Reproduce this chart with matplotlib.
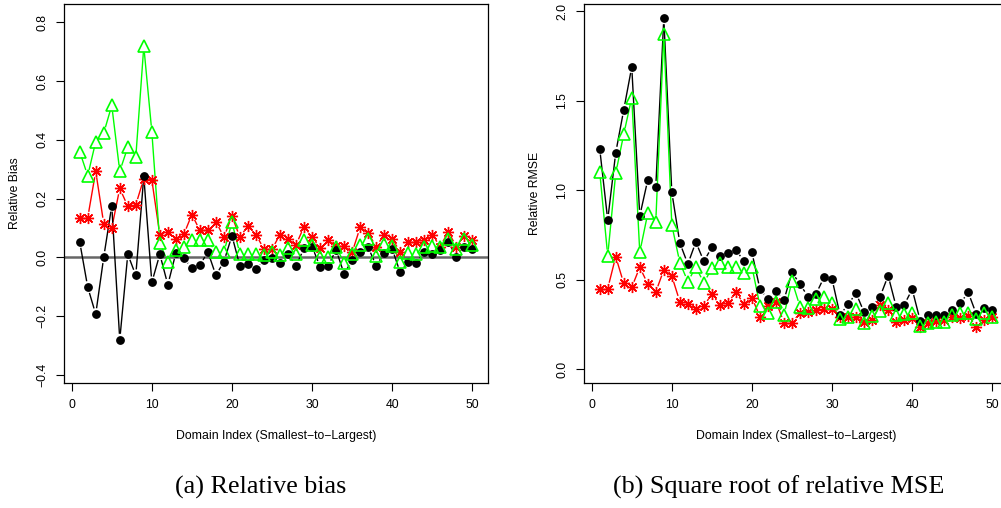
import numpy as np
import matplotlib.pyplot as plt

idx = list(range(1, 51))

bias_black = [0.053, -0.101, -0.193, 0.001, 0.176, -0.280, 0.011, -0.061, 0.276, -0.085,
              0.011, -0.093, 0.015, -0.003, -0.036, -0.026, 0.019, -0.061, -0.014, 0.074,
              -0.029, -0.022, -0.040, -0.008, -0.003, -0.020, 0.011, -0.028, 0.031, 0.037,
              -0.031, -0.029, 0.026, -0.056, -0.009, 0.020, 0.035, -0.028, 0.015, 0.029,
              -0.051, -0.014, -0.019, 0.020, 0.012, 0.026, 0.054, 0.001, 0.035, 0.029]
bias_red = [0.135, 0.135, 0.293, 0.115, 0.100, 0.235, 0.174, 0.179, 0.268, 0.264,
            0.077, 0.088, 0.062, 0.079, 0.146, 0.092, 0.092, 0.122, 0.069, 0.140,
            0.069, 0.108, 0.078, 0.028, 0.028, 0.078, 0.062, 0.043, 0.105, 0.069,
            0.032, 0.058, 0.040, 0.040, 0.017, 0.102, 0.083, 0.037, 0.077, 0.062,
            0.020, 0.051, 0.051, 0.058, 0.077, 0.037, 0.088, 0.037, 0.074, 0.060]
bias_green = [0.360, 0.278, 0.394, 0.423, 0.517, 0.293, 0.375, 0.341, 0.718, 0.428,
              0.049, -0.015, 0.024, 0.035, 0.060, 0.060, 0.058, 0.018, 0.018, 0.120,
              0.012, 0.012, 0.012, 0.009, 0.020, 0.009, 0.032, 0.012, 0.058, 0.043,
              0.001, 0.001, 0.037, -0.019, 0.012, 0.043, 0.064, 0.006, 0.045, 0.040,
              -0.014, 0.015, 0.012, 0.035, 0.040, 0.035, 0.062, 0.028, 0.062, 0.043]

rmse_black = [1.233, 0.834, 1.210, 1.449, 1.689, 0.857, 1.058, 1.019, 1.961, 0.989,
              0.706, 0.588, 0.711, 0.603, 0.682, 0.635, 0.652, 0.666, 0.605, 0.653,
              0.447, 0.393, 0.439, 0.387, 0.542, 0.475, 0.406, 0.421, 0.514, 0.503,
              0.303, 0.363, 0.425, 0.318, 0.350, 0.406, 0.523, 0.350, 0.359, 0.447,
              0.272, 0.306, 0.306, 0.306, 0.331, 0.369, 0.429, 0.309, 0.344, 0.331]
rmse_red = [0.447, 0.451, 0.629, 0.480, 0.458, 0.570, 0.477, 0.432, 0.555, 0.521,
            0.378, 0.365, 0.339, 0.354, 0.421, 0.359, 0.370, 0.433, 0.363, 0.400,
            0.294, 0.354, 0.378, 0.261, 0.261, 0.316, 0.322, 0.331, 0.335, 0.335,
            0.294, 0.294, 0.294, 0.262, 0.278, 0.359, 0.331, 0.266, 0.275, 0.284,
            0.238, 0.257, 0.270, 0.275, 0.294, 0.284, 0.300, 0.238, 0.275, 0.291]
rmse_green = [1.104, 0.635, 1.095, 1.313, 1.518, 0.654, 0.871, 0.825, 1.872, 0.806,
              0.596, 0.490, 0.570, 0.484, 0.564, 0.592, 0.570, 0.573, 0.540, 0.573,
              0.354, 0.316, 0.378, 0.303, 0.493, 0.350, 0.344, 0.393, 0.402, 0.369,
              0.279, 0.294, 0.335, 0.257, 0.300, 0.328, 0.369, 0.303, 0.309, 0.316,
              0.242, 0.257, 0.262, 0.266, 0.303, 0.313, 0.313, 0.279, 0.313, 0.294]

W, H = 1001, 508
plt.rcParams['font.family'] = 'Liberation Sans'
fig = plt.figure(figsize=(W / 100, H / 100), dpi=100)


def px_axes(x0, y0, x1, y1):
    return fig.add_axes([x0 / W, 1 - y1 / H, (x1 - x0) / W, (y1 - y0) / H])


def gapped(ax, x, y, color, gap=6.0):
    # R type="b": segments stop short of each point
    pts = ax.transData.transform(np.column_stack([x, y]))
    inv = ax.transData.inverted()
    for p, q in zip(pts[:-1], pts[1:]):
        d = q - p
        L = np.hypot(d[0], d[1])
        if L <= 2 * gap:
            continue
        u = d / L
        a, b = inv.transform([p + u * gap, q - u * gap])
        ax.plot([a[0], b[0]], [a[1], b[1]], color=color, lw=1.0,
                solid_capstyle='butt')


def panel(ax, black, red, green, ylim, yticks):
    ax.set_xlim(-0.96, 51.96)
    ax.set_ylim(*ylim)
    ax.set_xticks([0, 10, 20, 30, 40, 50])
    ax.set_yticks(yticks)
    ax.tick_params(direction='out', length=5.5, width=0.8, labelsize=8.8, pad=6,
                   top=False, right=False)
    for lab in ax.get_yticklabels():
        lab.set_rotation(90)
        lab.set_va('center')
    for s in ax.spines.values():
        s.set_linewidth(0.9)
    for ys, col in [(red, 'red'), (black, 'black'), (green, '#00ff00')]:
        gapped(ax, idx, ys, col)
    ax.plot(idx, red, ls='none', marker=(8, 2, 0), ms=8, mew=1.0, color='red')
    ax.plot(idx, black, ls='none', marker='o', ms=5.3, color='black')
    ax.plot(idx, green, ls='none', marker='^', ms=8, mew=1.2,
            mfc='none', mec='#00ff00')


ax1 = px_axes(64, 4.3, 488, 382.7)
ax1.axhline(0, color='#666666', lw=1.8, zorder=0)
panel(ax1, bias_black, bias_red, bias_green, (-0.426, 0.861),
      [-0.4, -0.2, 0.0, 0.2, 0.4, 0.6, 0.8])
ax1.set_yticklabels(['\u22120.4', '\u22120.2', '0.0', '0.2', '0.4', '0.6', '0.8'],
                    rotation=90, va='center')

ax2 = px_axes(584, 4.3, 1008, 382.7)
panel(ax2, rmse_black, rmse_red, rmse_green, (-0.075, 2.039),
      [0.0, 0.5, 1.0, 1.5, 2.0])

fig.text(15 / W, 1 - 193.5 / H, 'Relative Bias', rotation=90, ha='center',
         va='center', fontsize=8.8)
fig.text(535 / W, 1 - 193.5 / H, 'Relative RMSE', rotation=90, ha='center',
         va='center', fontsize=8.8)
fig.text(276 / W, 1 - 436 / H, 'Domain Index (Smallest\u2212to\u2212Largest)',
         ha='center', va='center', fontsize=8.8)
fig.text(796 / W, 1 - 436 / H, 'Domain Index (Smallest\u2212to\u2212Largest)',
         ha='center', va='center', fontsize=8.8)
fig.text(261 / W, 1 - 487 / H, '(a) Relative bias', ha='center', va='center',
         fontsize=18.8, family='Liberation Serif')
fig.text(779 / W, 1 - 487 / H, '(b) Square root of relative MSE', ha='center',
         va='center', fontsize=18.8, family='Liberation Serif')

fig.savefig('out.png', dpi=100)
